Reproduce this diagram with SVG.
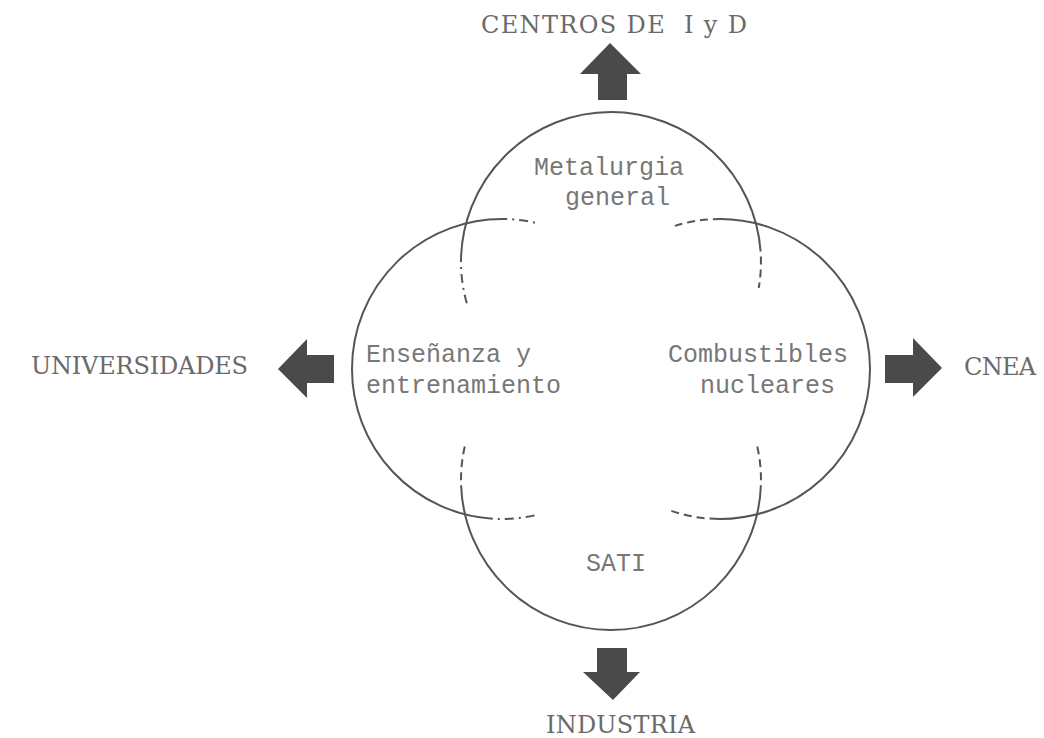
<svg xmlns="http://www.w3.org/2000/svg" width="1044" height="738" viewBox="0 0 1044 738">
<style>
.solid{fill:none;stroke:#555;stroke-width:2}
.dash{fill:none;stroke:#555;stroke-width:2;stroke-dasharray:8 5;stroke-dashoffset:8}
.dashdot{fill:none;stroke:#555;stroke-width:2;stroke-dasharray:9 5 2 5;stroke-dashoffset:9}
.lbl{font-family:"Liberation Mono","DejaVu Sans Mono",monospace;font-size:25px;fill:#777}
.out{font-family:"DejaVu Serif","Liberation Serif",serif;font-size:24px;fill:#6a6a6a}
.arr{fill:#4a4a4a;stroke:none}
</style>
<rect width="1044" height="738" fill="#fff"/>
<g id="metalurgia">
<path class="solid" d="M461,262 A150,150 0 0 1 611,112 A150,150 0 0 1 760.6,251.5"/>
<path class="dashdot" d="M461,262 A150,150 0 0 0 466.8,303.3"/>
<path class="dash" d="M760.6,251.5 A150,150 0 0 1 758.7,288"/>
<text class="lbl" x="534" y="175">Metalurgia</text>
<text class="lbl" x="565" y="205">general</text>
</g>
<g id="ensenanza">
<path class="solid" d="M492.8,518.7 A150,150 0 0 1 352,369 A150,150 0 0 1 507.2,219.1"/>
<path class="dashdot" d="M507.2,219.1 A150,150 0 0 1 538.3,223.5"/>
<path class="dashdot" d="M492.8,518.7 A150,150 0 0 0 538.3,514.5"/>
<text class="lbl" x="366" y="362">Enseñanza y</text>
<text class="lbl" x="366" y="393">entrenamiento</text>
</g>
<g id="combustibles">
<path class="solid" d="M712.9,219.2 A150,150 0 0 1 870,369 A150,150 0 0 1 709.5,518.6"/>
<path class="dash" d="M712.9,219.2 A150,150 0 0 0 674.9,225.9"/>
<path class="dash" d="M709.5,518.6 A150,150 0 0 1 668.7,510"/>
<text class="lbl" x="668" y="362">Combustibles</text>
<text class="lbl" x="700" y="393">nucleares</text>
</g>
<g id="sati">
<path class="solid" d="M461.1,485.2 A150,150 0 0 0 611,630 A150,150 0 0 0 760.9,485.2"/>
<path class="dash" d="M461.1,485.2 A150,150 0 0 1 464.8,446.3"/>
<path class="dash" d="M760.9,485.2 A150,150 0 0 0 757.2,446.3"/>
<text class="lbl" x="586" y="571">SATI</text>
</g>
<g id="centros">
<text class="out" x="481" y="33" textLength="266" lengthAdjust="spacing" xml:space="preserve">CENTROS DE  I y D</text>
</g>
<g id="universidades">
<text class="out" x="31" y="374" textLength="217" lengthAdjust="spacing">UNIVERSIDADES</text>
</g>
<g id="cnea">
<text class="out" x="964" y="375" textLength="72" lengthAdjust="spacing">CNEA</text>
</g>
<g id="industria">
<text class="out" x="546" y="733" textLength="149" lengthAdjust="spacing">INDUSTRIA</text>
</g>
<g id="connectors">
<polygon class="arr" points="610,43 641,74 627,74 627,100 598,100 598,74 580,74"/>
<polygon class="arr" points="278,369 307,339 307,355 334,355 334,383 307,383 307,398"/>
<polygon class="arr" points="942,368 913,338 913,355 885,355 885,383 913,383 913,397"/>
<polygon class="arr" points="613,700 640,672 627,672 627,648 597,648 597,672 583,672"/>
</g>
</svg>
